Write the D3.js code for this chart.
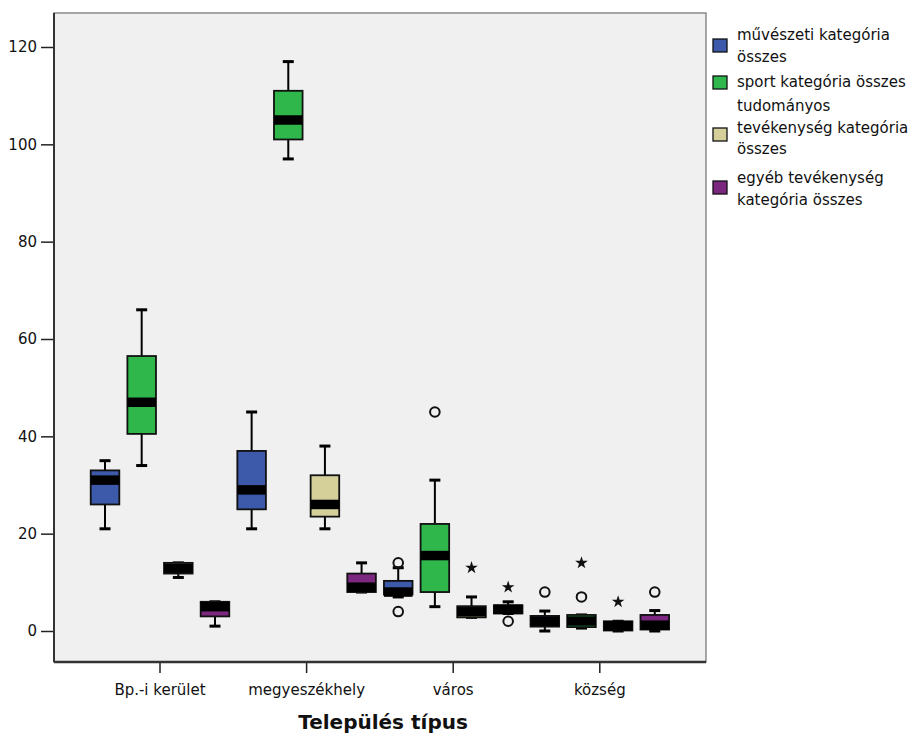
<!DOCTYPE html>
<html>
<head>
<meta charset="utf-8">
<title>Település típus boxplot</title>
<script src="https://d3js.org/d3.v7.min.js"></script>
<style>
  body { margin: 0; background: #fff; }
  svg { display: block; font-family: "DejaVu Sans", sans-serif; }
</style>
</head>
<body>
<svg id="chart"></svg>
<script>
// categories and series
var categories = ["Bp.-i kerület", "megyeszékhely", "város", "község"];
var series = ["művészeti kategória összes", "sport kategória összes",
              "tudományos tevékenység kategória összes", "egyéb tevékenység kategória összes"];
var legendLines = [["művészeti kategória", "összes"], ["sport kategória összes"],
                   ["tudományos", "tevékenység kategória", "összes"],
                   ["egyéb tevékenység", "kategória összes"]];
var colors = ["#3d59a9", "#2fb74b", "#d5d09a", "#7c2880"];

// [min, q1, median, q3, max] per category
var muveszeti  = [[21, 26, 31, 33, 35], [21, 25, 29, 37, 45], [7, 7.5, 8, 10.3, 13], [0, 0.9, 2, 3.1, 4.1]];
var sport      = [[34, 40.5, 47, 56.5, 66], [97, 101, 105, 111, 117], [5, 8, 15.5, 22, 31], [0.6, 0.8, 2.05, 3.3, 3.3]];
var tudomanyos = [[11, 11.8, 12.9, 14, 14], [21, 23.5, 26, 32, 38], [2.8, 2.8, 3.95, 5.1, 7], [0, 0.1, 1.05, 2, 2]];
var egyeb      = [[1, 3, 5, 6, 6], [8, 8, 9, 11.8, 14], [3.6, 3.6, 4.45, 5.3, 6], [0, 0.3, 1.2, 3.3, 4.2]];
var stats = [muveszeti, sport, tudomanyos, egyeb];

// outliers: [category index, series index, value, "o" = outlier, "*" = extreme]
var outliers = [
  [2, 0, 14, "o"], [2, 0, 4, "o"], [2, 1, 45, "o"], [2, 2, 13, "*"], [2, 3, 9, "*"], [2, 3, 2, "o"],
  [3, 0, 8, "o"], [3, 1, 14, "*"], [3, 1, 7, "o"], [3, 2, 6, "*"], [3, 3, 8, "o"]
];
var yTicks = [0, 20, 40, 60, 80, 100, 120];

var width = 909, height = 737;
var plot = { left: 54, top: 13, right: 706, bottom: 662 };

var svg = d3.select("#chart").attr("width", width).attr("height", height);
svg.append("rect").attr("width", width).attr("height", height).attr("fill", "#fff");

var y = d3.scaleLinear().domain([0, 120]).range([631, 47]);
var x0 = d3.scaleBand().domain(categories).range([86.7, 673.1]);
var x1 = d3.scaleBand().domain(d3.range(series.length))
    .range([0, x0.bandwidth()]).paddingInner(0.22).paddingOuter(0.11);

// plot background
svg.append("rect")
    .attr("x", plot.left).attr("y", plot.top)
    .attr("width", plot.right - plot.left).attr("height", plot.bottom - plot.top)
    .attr("fill", "#f0f0f0").attr("stroke", "#8a8a8a").attr("stroke-width", 1.5);

// axes
var yAxis = svg.append("g").attr("transform", "translate(" + plot.left + ",0)")
    .call(d3.axisLeft(y).tickValues(yTicks).tickSize(13).tickPadding(4));
yAxis.select(".domain").remove();
yAxis.selectAll("line").attr("stroke", "#222").attr("stroke-width", 1.5);
yAxis.selectAll("text").attr("font-size", 15).attr("fill", "#111")
    .attr("font-family", "DejaVu Sans");

var xAxis = svg.append("g").attr("transform", "translate(0," + plot.bottom + ")")
    .call(d3.axisBottom(x0).tickSize(11).tickPadding(11));
xAxis.select(".domain").remove();
xAxis.selectAll("line").attr("stroke", "#222").attr("stroke-width", 1.5);
xAxis.selectAll("text").attr("font-size", 15).attr("fill", "#111")
    .attr("font-family", "DejaVu Sans");

svg.append("line").attr("x1", plot.left).attr("x2", plot.left)
    .attr("y1", plot.top).attr("y2", plot.bottom).attr("stroke", "#333").attr("stroke-width", 2);
svg.append("line").attr("x1", plot.left).attr("x2", plot.right)
    .attr("y1", plot.bottom).attr("y2", plot.bottom).attr("stroke", "#333").attr("stroke-width", 2.5);

svg.append("text").attr("x", (plot.left + plot.right) / 2 + 3).attr("y", 729)
    .attr("text-anchor", "middle").attr("font-size", 20).attr("font-weight", "bold")
    .attr("fill", "#111").text("Település típus");

// boxes
var boxes = [];
categories.forEach(function (c, ci) {
  series.forEach(function (s, si) {
    var v = stats[si][ci];
    boxes.push({ c: c, si: si, min: v[0], q1: v[1], med: v[2], q3: v[3], max: v[4] });
  });
});

var bw = x1.bandwidth();
var g = svg.selectAll("g.box").data(boxes).enter().append("g").attr("class", "box")
    .attr("transform", function (d) { return "translate(" + (x0(d.c) + x1(d.si)) + ",0)"; });

// whiskers
g.append("line").attr("x1", bw / 2).attr("x2", bw / 2)
    .attr("y1", function (d) { return y(d.max); }).attr("y2", function (d) { return y(d.min); })
    .attr("stroke", "#000").attr("stroke-width", 2);
g.selectAll("line.cap").data(function (d) { return [d.min, d.max]; }).enter().append("line")
    .attr("class", "cap").attr("x1", bw / 2 - 5.5).attr("x2", bw / 2 + 5.5)
    .attr("y1", function (v) { return y(v); }).attr("y2", function (v) { return y(v); })
    .attr("stroke", "#000").attr("stroke-width", 3);

g.append("rect").attr("x", 0).attr("width", bw)
    .attr("y", function (d) { return y(d.q3); })
    .attr("height", function (d) { return Math.max(1, y(d.q1) - y(d.q3)); })
    .attr("fill", function (d) { return colors[d.si]; })
    .attr("stroke", "#111").attr("stroke-width", 1.8);

g.append("rect").attr("x", 0).attr("width", bw)
    .attr("y", function (d) { return y(d.med) - 4.75; }).attr("height", 9.5)
    .attr("fill", "#000");

// outliers and extremes
var oData = outliers.map(function (o) {
  return { x: x0(categories[o[0]]) + x1(o[1]) + bw / 2, y: y(o[2]), kind: o[3] };
});
svg.selectAll("circle.out").data(oData.filter(function (d) { return d.kind === "o"; }))
  .enter().append("circle").attr("class", "out")
    .attr("cx", function (d) { return d.x; }).attr("cy", function (d) { return d.y; })
    .attr("r", 4.8).attr("fill", "none").attr("stroke", "#111").attr("stroke-width", 2);
svg.selectAll("path.ext").data(oData.filter(function (d) { return d.kind === "*"; }))
  .enter().append("path").attr("class", "ext")
    .attr("transform", function (d) { return "translate(" + d.x + "," + d.y + ")"; })
    .attr("d", d3.symbol().type(d3.symbolStar).size(50))
    .attr("fill", "#111");

// legend
var legendTop = [40, 87, 111, 183];
var legendSwatch = [39, 76, 128, 181];
var lg = svg.append("g");
series.forEach(function (s, i) {
  lg.append("rect").attr("x", 713).attr("y", legendSwatch[i]).attr("width", 14).attr("height", 13)
      .attr("fill", colors[i]).attr("stroke", "#111").attr("stroke-width", 1.3);
  legendLines[i].forEach(function (line, j) {
    lg.append("text").attr("x", 737).attr("y", legendTop[i] + j * 21.5)
        .attr("font-size", 15).attr("fill", "#111").text(line);
  });
});
</script>
</body>
</html>
